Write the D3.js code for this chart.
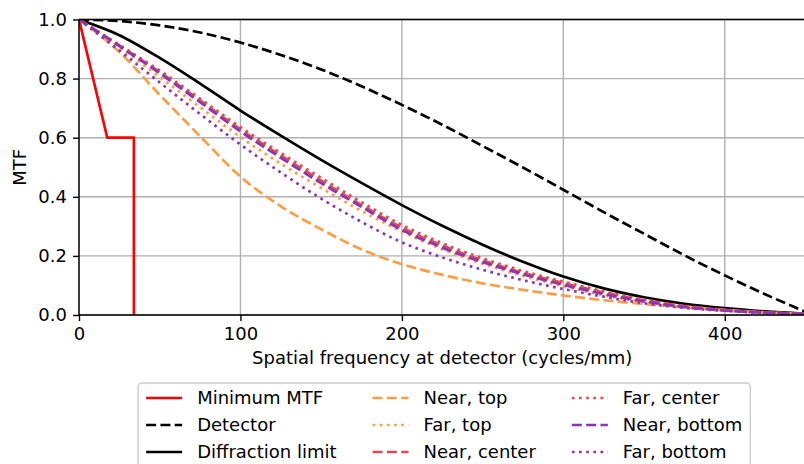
<!DOCTYPE html>
<html>
<head>
<meta charset="utf-8">
<script src="https://cdn.jsdelivr.net/npm/d3@7"></script>
<style>
html,body{margin:0;padding:0;background:#fff;}
svg{display:block;}
text{font-family:"DejaVu Sans",sans-serif;fill:#000;}
</style>
</head>
<body>
<svg id="chart" width="804" height="464"></svg>
<script>
// ---------- data ----------
const freq = [0,25,50,75,100,125,150,175,200,225,250,275,300,325,350,375,400,425,450];
const detector     = [1.0,0.995,0.980,0.956,0.922,0.880,0.831,0.774,0.711,0.644,0.572,0.499,0.424,0.348,0.275,0.202,0.134,0.070,0.011];
const diffraction  = [1.0,0.947,0.870,0.783,0.692,0.607,0.525,0.447,0.372,0.302,0.238,0.180,0.130,0.090,0.060,0.038,0.023,0.012,0.004];
const nearTop      = [1.0,0.890,0.745,0.605,0.468,0.368,0.290,0.222,0.172,0.136,0.107,0.085,0.066,0.050,0.037,0.026,0.017,0.009,0.003];
const farTop       = [1.0,0.905,0.805,0.703,0.602,0.512,0.430,0.352,0.282,0.222,0.173,0.132,0.097,0.067,0.043,0.026,0.015,0.008,0.003];
const nearCenter   = [1.0,0.912,0.822,0.726,0.628,0.540,0.455,0.372,0.296,0.235,0.185,0.143,0.108,0.076,0.050,0.030,0.017,0.009,0.003];
const farCenter    = [1.0,0.914,0.827,0.732,0.636,0.548,0.464,0.382,0.305,0.243,0.192,0.149,0.113,0.080,0.052,0.031,0.018,0.009,0.003];
const nearBottom   = [1.0,0.910,0.818,0.720,0.621,0.532,0.446,0.366,0.288,0.228,0.179,0.138,0.102,0.071,0.046,0.027,0.015,0.008,0.003];
const farBottom    = [1.0,0.895,0.787,0.680,0.577,0.482,0.394,0.315,0.246,0.195,0.153,0.118,0.088,0.062,0.040,0.024,0.014,0.007,0.002];
const minMtfFreq = [0,17.5,34,34];
const minMtfVal  = [1.0,0.6,0.6,0.0];

const xTicks = [0,100,200,300,400];
const yTicks = [0.0,0.2,0.4,0.6,0.8,1.0];

const seriesNames = ["Minimum MTF","Detector","Diffraction limit","Near, top","Far, top","Near, center","Far, center","Near, bottom","Far, bottom"];
const seriesColors = ["#ff0000","#000000","#000000","#ff9d45","#ff9d45","#e5484d","#e5484d","#8b35b8","#8b35b8"];
const seriesStyles = ["solid","dashed","solid","dashed","dotted","dashed","dotted","dashed","dotted"];

(function(){
// ---------- layout ----------
const svg = d3.select("#chart");
const pL = 79, pR = 805.5, pT = 19.5, pB = 315;
const x = d3.scaleLinear().domain([0,450]).range([pL,pR]);
const y = d3.scaleLinear().domain([0,1]).range([pB,pT]);
const FS = 18, LW = 2.7;
const dashFor = s => s==="dashed" ? `${3.7*LW},${1.6*LW}` : s==="dotted" ? `${1*LW},${1.65*LW}` : null;

svg.append("defs").append("clipPath").attr("id","clip")
  .append("rect").attr("x",pL).attr("y",pT).attr("width",pR-pL).attr("height",pB-pT);

// grid
const grid = svg.append("g");
grid.selectAll(".gx").data(xTicks).enter().append("line")
  .attr("x1",d=>x(d)).attr("x2",d=>x(d)).attr("y1",pT).attr("y2",pB)
  .attr("stroke","#b0b0b0").attr("stroke-width",1.4);
grid.selectAll(".gy").data(yTicks).enter().append("line")
  .attr("x1",pL).attr("x2",pR).attr("y1",d=>y(d)).attr("y2",d=>y(d))
  .attr("stroke","#b0b0b0").attr("stroke-width",1.4);

// lines
const plot = svg.append("g").attr("clip-path","url(#clip)");
const line = d3.line().x(d=>x(d[0])).y(d=>y(d[1])).curve(d3.curveMonotoneX);
const lineLin = d3.line().x(d=>x(d[0])).y(d=>y(d[1]));
const curveSeries = [
  minMtfFreq.map((f,i)=>[f,minMtfVal[i]]),
  freq.map((f,i)=>[f,detector[i]]),
  freq.map((f,i)=>[f,diffraction[i]]),
  freq.map((f,i)=>[f,nearTop[i]]),
  freq.map((f,i)=>[f,farTop[i]]),
  freq.map((f,i)=>[f,nearCenter[i]]),
  freq.map((f,i)=>[f,farCenter[i]]),
  freq.map((f,i)=>[f,nearBottom[i]]),
  freq.map((f,i)=>[f,farBottom[i]])
];
curveSeries.forEach((pts,i)=>{
  plot.append("path").attr("d", i===0 ? lineLin(pts) : line(pts))
    .attr("fill","none").attr("stroke",seriesColors[i]).attr("stroke-width",LW)
    .attr("stroke-dasharray",dashFor(seriesStyles[i]))
    .attr("stroke-linejoin","round");
});

// axes
const xAxis = svg.append("g").attr("transform",`translate(0,${pB})`)
  .call(d3.axisBottom(x).tickValues(xTicks).tickFormat(d3.format("d")).tickSize(6).tickPadding(6));
const yAxis = svg.append("g").attr("transform",`translate(${pL},0)`)
  .call(d3.axisLeft(y).tickValues(yTicks).tickFormat(d3.format(".1f")).tickSize(6).tickPadding(6));
[xAxis,yAxis].forEach(a=>{
  a.select(".domain").remove();
  a.selectAll(".tick line").attr("stroke","#000").attr("stroke-width",1.4);
  a.selectAll(".tick text").attr("font-size",FS).attr("font-family","DejaVu Sans").attr("fill","#000");
});
// spines
svg.append("line").attr("x1",pL).attr("x2",pL).attr("y1",pT).attr("y2",pB).attr("stroke","#000").attr("stroke-width",1.4);
svg.append("line").attr("x1",pL).attr("x2",pR).attr("y1",pB).attr("y2",pB).attr("stroke","#000").attr("stroke-width",1.4);
svg.append("line").attr("x1",pL).attr("x2",pR).attr("y1",pT).attr("y2",pT).attr("stroke","#000").attr("stroke-width",1.4);
svg.append("line").attr("x1",pR).attr("x2",pR).attr("y1",pT).attr("y2",pB).attr("stroke","#000").attr("stroke-width",1.4);

// axis labels
svg.append("text").attr("x",(pL+pR)/2).attr("y",364).attr("text-anchor","middle")
  .attr("font-size",FS).text("Spatial frequency at detector (cycles/mm)");
svg.append("text").attr("transform",`translate(26,${(pT+pB)/2}) rotate(-90)`)
  .attr("text-anchor","middle").attr("font-size",FS).text("MTF");

// legend
const leg = svg.append("g");
const rows = 3, handleLen = 36, handlePad = 15, colSpace = 36, padX = 8, rowH = 27;
const legTop = 383, firstRowY = 398;
const tmp = svg.append("text").attr("font-size",FS);
const widths = seriesNames.map(n=>{ tmp.text(n); return tmp.node().getComputedTextLength(); });
tmp.remove();
const colW = [0,1,2].map(c=>d3.max(widths.slice(c*rows,c*rows+rows)));
const totalW = padX*2 + colW.reduce((a,w)=>a+handleLen+handlePad+w,0) + colSpace*2;
const legLeft = (pL+pR)/2 - totalW/2 + 2;
leg.append("rect").attr("x",legLeft).attr("y",legTop).attr("width",totalW).attr("height",100)
  .attr("rx",4).attr("fill","#fff").attr("fill-opacity",0.8).attr("stroke","#cccccc").attr("stroke-width",1.4);
let cx = legLeft + padX;
[0,1,2].forEach(c=>{
  for(let r=0;r<rows;r++){
    const i = c*rows+r;
    const yy = firstRowY + r*rowH;
    leg.append("line").attr("x1",cx).attr("x2",cx+handleLen).attr("y1",yy).attr("y2",yy)
      .attr("stroke",seriesColors[i]).attr("stroke-width",LW).attr("stroke-dasharray",dashFor(seriesStyles[i]));
    leg.append("text").attr("x",cx+handleLen+handlePad).attr("y",yy).attr("dy","0.35em")
      .attr("font-size",FS).text(seriesNames[i]);
  }
  cx += handleLen + handlePad + colW[c] + colSpace;
});
})();
</script>
</body>
</html>
